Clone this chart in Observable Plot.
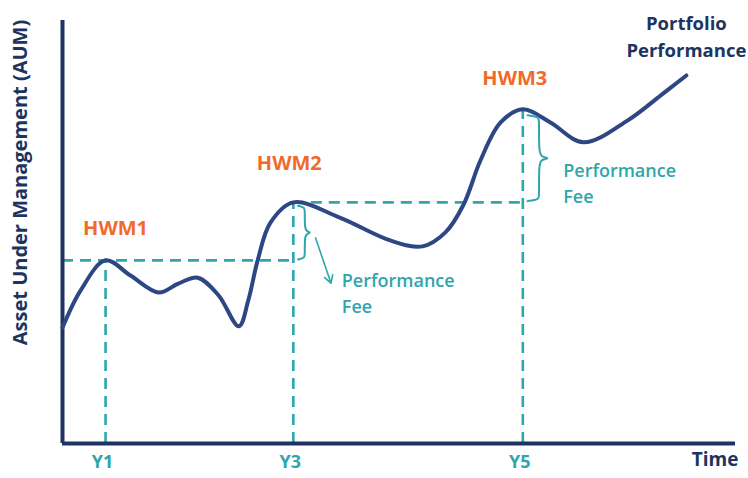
<!DOCTYPE html>
<html>
<head>
<meta charset="utf-8">
<script src="https://cdn.jsdelivr.net/npm/d3@7"></script>
<script src="https://cdn.jsdelivr.net/npm/@observablehq/plot@0.6"></script>
<style>
  html, body { margin: 0; padding: 0; background: #fff; }
</style>
</head>
<body>
<div id="chart"></div>
<script>
// Portfolio performance curve (time in arbitrary units, AUM in arbitrary units)
const timeValues = [0, 0.27, 0.64, 1.01, 1.43, 1.72, 2.01, 2.32, 2.62, 2.76, 2.90, 3.09, 3.43, 4.12, 4.87, 5.35, 5.69, 5.96, 6.21, 6.51, 6.84, 7.25, 7.74, 8.40, 8.89, 9.27];
const aumValues  = [27.4, 36.2, 43.3, 39.7, 35.7, 37.8, 39.2, 35.0, 27.7, 33.8, 43.3, 52.2, 57.0, 53.4, 48.0, 46.6, 49.9, 56.5, 66.9, 75.9, 79.0, 75.9, 71.2, 76.4, 82.3, 87.0];

// High-water marks
const hwmLabels = ["HWM1", "HWM2", "HWM3"];
const hwmTime   = [0.64, 3.43, 6.84];
const hwmAum    = [43.3, 57.0, 79.0];

// x tick labels
const tickLabels = ["Y1", "Y3", "Y5"];

// annotation texts
const feeText = "Performance\nFee";
const seriesName = "Portfolio\nPerformance";
const xTitle = "Time";
const yTitle = "Asset Under Management (AUM)";

const NAVY = "#1d3461";
const LINE = "#2c4784";
const TEAL = "#2ea6aa";
const ORANGE = "#f26a2b";

const curve = timeValues.map((t, i) => ({t, v: aumValues[i]}));
const hwm = hwmLabels.map((label, i) => ({label, t: hwmTime[i], v: hwmAum[i], tick: tickLabels[i]}));

// dashed guides
const hGuides = [
  {x1: 0, x2: hwmTime[1], y: hwmAum[0]},
  {x1: hwmTime[1], x2: hwmTime[2], y: hwmAum[1]}
];

// curly braces spanning the fee between consecutive HWMs
function brace(x0, w, top, bot, id) {
  const mid = (top + bot) / 2;
  const hy = 1.3;
  return [
    [x0, top], [x0 + w * 0.5, top - hy * 0.3], [x0 + w * 0.5, top - hy],
    [x0 + w * 0.5, mid + hy], [x0 + w * 0.6, mid + hy * 0.25], [x0 + w, mid],
    [x0 + w * 0.6, mid - hy * 0.25], [x0 + w * 0.5, mid - hy],
    [x0 + w * 0.5, bot + hy], [x0 + w * 0.5, bot + hy * 0.3], [x0, bot]
  ].map(([t, v]) => ({t, v, id}));
}
const braces = [
  ...brace(hwmTime[1] + 0.07, 0.2, hwmAum[1] - 0.8, hwmAum[0] + 0.2, 0),
  ...brace(hwmTime[2] + 0.07, 0.34, hwmAum[2] - 1.4, hwmAum[1] + 0.3, 1)
];

const feeLabels = [
  {t: hwmTime[1] + 0.72, v: 35.9},
  {t: hwmTime[2] + 0.60, v: 61.9}
];
const arrow = [{x1: hwmTime[1] + 0.33, y1: 48.6, x2: hwmTime[1] + 0.56, y2: 37.9}];

const hwmOffsets = [[10, -32], [-4, -39], [-8, -31]];
const font = {fontFamily: "Open Sans", fontWeight: 700};

const marks = [
  // dashed guides
  Plot.ruleY(hGuides, {x1: "x1", x2: "x2", y: "y", stroke: TEAL, strokeWidth: 2.6, strokeDasharray: "11,7"}),
  Plot.ruleX(hwm, {x: "t", y1: 0, y2: "v", stroke: TEAL, strokeWidth: 2.6, strokeDasharray: "11,7"}),
  // axes
  Plot.ruleX([0], {stroke: NAVY, strokeWidth: 4}),
  Plot.ruleY([0], {stroke: NAVY, strokeWidth: 4}),
  // performance curve
  Plot.line(curve, {x: "t", y: "v", stroke: LINE, strokeWidth: 4, curve: "catmull-rom"}),
  // braces
  Plot.line(braces, {x: "t", y: "v", z: "id", stroke: TEAL, strokeWidth: 2, curve: "basis"}),
  Plot.arrow(arrow, {x1: "x1", y1: "y1", x2: "x2", y2: "y2", stroke: TEAL, strokeWidth: 1.6, headLength: 8}),
  // fee labels
  Plot.text(feeLabels, {x: "t", y: "v", text: () => feeText, textAnchor: "start", lineAnchor: "middle", lineHeight: 1.45, fontSize: 18, fill: TEAL, fontWeight: 600, fontFamily: "Open Sans"}),
  // HWM labels
  ...hwm.map((d, i) => Plot.text([d], {x: "t", y: "v", text: "label", dx: hwmOffsets[i][0], dy: hwmOffsets[i][1], fontSize: 20, fill: ORANGE, ...font})),
  // x tick labels
  Plot.text(hwm, {x: "t", text: "tick", frameAnchor: "bottom", dx: -3, dy: 24, fontSize: 18, fill: TEAL, ...font}),
  // series label
  Plot.text([curve[curve.length - 1]], {x: "t", y: "v", text: () => seriesName, dy: -41, lineAnchor: "middle", lineHeight: 1.5, fontSize: 18.5, fill: NAVY, ...font}),
  // axis titles
  Plot.text([xTitle], {frameAnchor: "bottom-right", textAnchor: "end", dx: 3, dy: 22, fontSize: 19, fill: NAVY, ...font}),
  Plot.text([yTitle], {frameAnchor: "left", textAnchor: "middle", rotate: -90, dx: -42, dy: -49.5, fontSize: 20, fill: NAVY, ...font})
];

const chart = Plot.plot({
  width: 748,
  height: 478,
  marginLeft: 62,
  marginRight: 13,
  marginTop: 20,
  marginBottom: 35,
  x: {domain: [0, 10], axis: null},
  y: {domain: [0, 100], axis: null},
  style: {fontFamily: "Open Sans", background: "#fff", overflow: "visible"},
  marks
});
document.getElementById("chart").appendChild(chart);
</script>
</body>
</html>
